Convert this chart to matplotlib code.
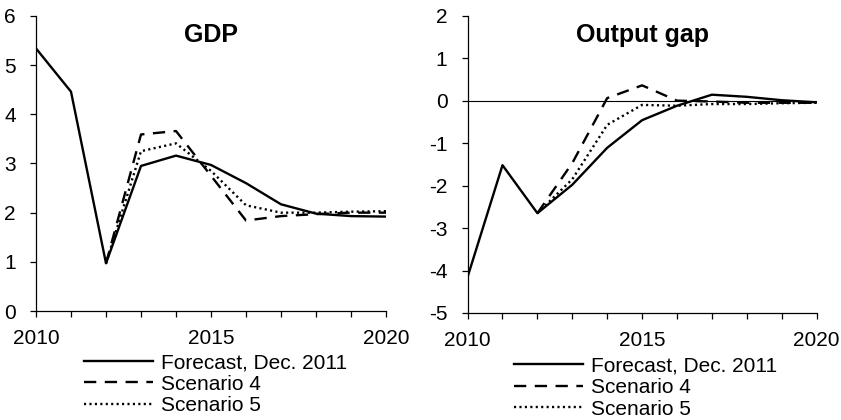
import numpy as np
import matplotlib
matplotlib.use("Agg")
import matplotlib.pyplot as plt

plt.rcParams['font.family'] = ['Liberation Sans', 'DejaVu Sans']
plt.rcParams['axes.unicode_minus'] = False

years = list(range(2010, 2021))

# GDP growth, %
gdp_forecast = [5.34, 4.46, 0.97, 2.95, 3.16, 2.97, 2.60, 2.17, 1.98, 1.93, 1.92]
gdp_scen4 = [None, None, 0.97, 3.59, 3.66, 2.75, 1.84, 1.93, 1.97, 2.00, 2.00]
gdp_scen5 = [None, None, 0.97, 3.25, 3.41, 2.85, 2.15, 2.00, 2.00, 2.02, 2.03]

# Output gap, %
gap_forecast = [-4.15, -1.52, -2.65, -1.98, -1.11, -0.46, -0.12, 0.14, 0.09, 0.01, -0.04]
gap_scen4 = [None, None, -2.65, -1.47, 0.06, 0.36, 0.00, -0.02, -0.05, -0.05, -0.05]
gap_scen5 = [None, None, -2.65, -1.85, -0.57, -0.10, -0.12, -0.08, -0.08, -0.06, -0.05]

labels = ['Forecast, Dec. 2011', 'Scenario 4', 'Scenario 5']


def to_arr(v):
    return np.array([np.nan if x is None else x for x in v], dtype=float)


def draw_panel(ax, title, series, ylim):
    l1, = ax.plot(years, to_arr(series[0]), color='black', lw=1.7, zorder=3)
    l2, = ax.plot(years, to_arr(series[1]), color='black', lw=1.7, dashes=(5.2, 3.6), zorder=2)
    l3, = ax.plot(years, to_arr(series[2]), color='black', lw=1.7, dashes=(0.9, 1.4), zorder=2)
    ax.set_xlim(2010, 2020)
    ax.set_ylim(*ylim)
    ax.set_xticks(years)
    ax.set_xticklabels([str(y) if y % 5 == 0 else '' for y in years])
    ax.set_yticks(range(ylim[0], ylim[1] + 1))
    for s in ['top', 'right']:
        ax.spines[s].set_visible(False)
    ax.spines['left'].set_linewidth(0.9)
    ax.spines['bottom'].set_linewidth(0.9)
    ax.tick_params(direction='out', length=4, width=0.9, labelsize=15)
    ax.tick_params(axis='x', pad=9)
    ax.tick_params(axis='y', pad=10.5)
    ax.text(0.5, 0.935, title, transform=ax.transAxes, ha='center', va='center',
            fontsize=18, fontweight='bold')
    return [l1, l2, l3]


fig = plt.figure(figsize=(8.41, 4.20), dpi=100)
ax1 = fig.add_axes([0.0428, 0.2595, 0.4162, 0.7025])
ax2 = fig.add_axes([0.556, 0.2548, 0.415, 0.7078])

h1 = draw_panel(ax1, 'GDP', [gdp_forecast, gdp_scen4, gdp_scen5], (0, 6))
h2 = draw_panel(ax2, 'Output gap', [gap_forecast, gap_scen4, gap_scen5], (-5, 2))
ax2.axhline(0, color='black', lw=0.8, zorder=1)

for h, x0, y0 in [(h1, 0.1, 0.159), (h2, 0.611, 0.151)]:
    fig.legend(h, labels, loc='upper left', bbox_to_anchor=(x0, y0),
               bbox_transform=fig.transFigure, frameon=False, fontsize=15,
               handlelength=3.3, handletextpad=0.38, labelspacing=0.12,
               borderpad=0, borderaxespad=0)

fig.savefig('out.png', dpi=100)
